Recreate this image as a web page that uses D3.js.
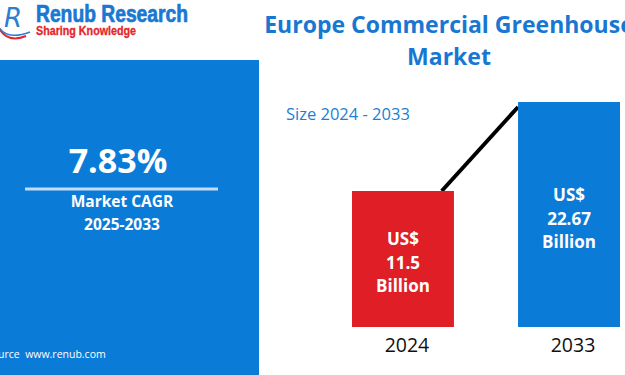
<!DOCTYPE html>
<html lang="en">
<head>
<meta charset="UTF-8">
<title>Europe Commercial Greenhouse Market</title>
<style>
    body { margin: 0; background: #fff; overflow: hidden; }
    svg { display: block; font-family: 'Open Sans', 'Noto Sans', sans-serif; }
</style>
</head>
<body>
<div id="chart"></div>
<script src="https://d3js.org/d3.v7.min.js"></script>
<script>
    // chart data
    const years = ["2024", "2033"];
    const sizes = [11.5, 22.67];
    const barColors = ["#e01e26", "#0b7bd8"];
    const cagr = "7.83%";
    const cagrPeriod = "2025-2033";

    const width = 625, height = 375;
    const blue = "#0b7bd8";

    const svg = d3.select("#chart").append("svg")
        .attr("width", width)
        .attr("height", height);

    // left panel
    svg.append("rect")
        .attr("x", 0).attr("y", 60)
        .attr("width", 259).attr("height", 315)
        .attr("fill", blue);

    const cx = 120;
    svg.append("text")
        .attr("x", cx - 2).attr("y", 173)
        .attr("text-anchor", "middle")
        .attr("fill", "#fff")
        .style("font-size", "34px").style("font-weight", 700)
        .text(cagr);
    svg.append("line")
        .attr("x1", 25).attr("x2", 218)
        .attr("y1", 189).attr("y2", 189)
        .attr("stroke", "#c4dcf2").attr("stroke-width", 3);
    svg.append("text")
        .attr("x", cx + 2).attr("y", 207)
        .attr("text-anchor", "middle")
        .attr("fill", "#fff")
        .style("font-size", "15.5px").style("font-weight", 700)
        .text("Market CAGR");
    svg.append("text")
        .attr("x", cx + 2).attr("y", 230)
        .attr("text-anchor", "middle")
        .attr("fill", "#fff")
        .style("font-size", "15.5px").style("font-weight", 700)
        .text(cagrPeriod);
    // source line is cut by the left edge in the original
    svg.append("text")
        .attr("x", -14).attr("y", 358)
        .attr("fill", "#fff")
        .style("font-size", "10.5px")
        .attr("xml:space", "preserve")
        .text("Source  www.renub.com");

    // logo
    const logo = svg.append("g");
    logo.append("path")
        .attr("d", "M-2,26 Q6,44 26,36")
        .attr("fill", "none").attr("stroke", "#e3262b").attr("stroke-width", 2);
    logo.append("path")
        .attr("d", "M-4,22 Q4,42 30,32")
        .attr("fill", "none").attr("stroke", "#2a7fd0").attr("stroke-width", 1.5);
    logo.append("text")
        .attr("x", 4).attr("y", 27)
        .attr("fill", "#2a7fd0")
        .style("font-size", "26px").style("font-style", "italic")
        .style("font-family", "'DejaVu Sans', sans-serif")
        .text("R");
    logo.append("text")
        .attr("x", 36).attr("y", 22)
        .attr("fill", "#1a78d2")
        .attr("stroke", "#1a78d2").attr("stroke-width", 0.7)
        .attr("textLength", 152).attr("lengthAdjust", "spacingAndGlyphs")
        .style("font-size", "23px").style("font-weight", 700)
        .style("font-family", "'Liberation Sans Narrow', 'Liberation Sans', sans-serif")
        .text("Renub Research");
    logo.append("text")
        .attr("x", 36).attr("y", 35)
        .attr("fill", "#e3262b")
        .attr("stroke", "#e3262b").attr("stroke-width", 0.3)
        .attr("textLength", 100).attr("lengthAdjust", "spacingAndGlyphs")
        .style("font-size", "12px").style("font-weight", 700)
        .style("font-family", "'Liberation Sans Narrow', 'Liberation Sans', sans-serif")
        .text("Sharing Knowledge");

    // title
    svg.append("text")
        .attr("x", 449).attr("y", 33)
        .attr("text-anchor", "middle")
        .attr("fill", "#1877d2")
        .style("font-size", "23px").style("font-weight", 700)
        .text("Europe Commercial Greenhouse");
    svg.append("text")
        .attr("x", 449).attr("y", 65)
        .attr("text-anchor", "middle")
        .attr("fill", "#1877d2")
        .style("font-size", "23px").style("font-weight", 700)
        .text("Market");
    svg.append("text")
        .attr("x", 286).attr("y", 120)
        .attr("fill", "#1a7fd6")
        .style("font-size", "16.5px")
        .text("Size 2024 - 2033");

    // scales
    const x = d3.scaleBand()
        .domain(years)
        .range([352, 620])
        .paddingInner(0.386);
    const y = d3.scaleLinear()
        .domain([-5.57, 22.67])
        .range([327, 102]);
    const bw = x.bandwidth();

    // connector
    svg.append("line")
        .attr("x1", x(years[0]) + bw * 0.88).attr("y1", y(sizes[0]))
        .attr("x2", x(years[1])).attr("y2", y(sizes[1]) + 5)
        .attr("stroke", "#000").attr("stroke-width", 4);

    const bars = svg.selectAll("g.bar")
        .data(years.map((yr, i) => ({ year: yr, value: sizes[i], color: barColors[i] })))
        .enter().append("g").attr("class", "bar");

    bars.append("rect")
        .attr("x", d => x(d.year))
        .attr("y", d => y(d.value))
        .attr("width", bw)
        .attr("height", d => y(-5.57) - y(d.value))
        .attr("fill", d => d.color);

    bars.each(function (d) {
        const g = d3.select(this);
        const mid = (y(d.value) + y(-5.57)) / 2;
        const lines = ["US$", String(d.value), "Billion"];
        lines.forEach((t, j) => {
            g.append("text")
                .attr("x", x(d.year) + bw / 2)
                .attr("y", mid + (j - 1) * 23.5 + 10)
                .attr("text-anchor", "middle")
                .attr("fill", "#fff")
                .style("font-size", "17px").style("font-weight", 700)
                .text(t);
        });
        g.append("text")
            .attr("x", x(d.year) + bw / 2 + 4)
            .attr("y", 352)
            .attr("text-anchor", "middle")
            .attr("fill", "#111")
            .style("font-size", "19.5px")
            .text(d.year);
    });
</script>
</body>
</html>
